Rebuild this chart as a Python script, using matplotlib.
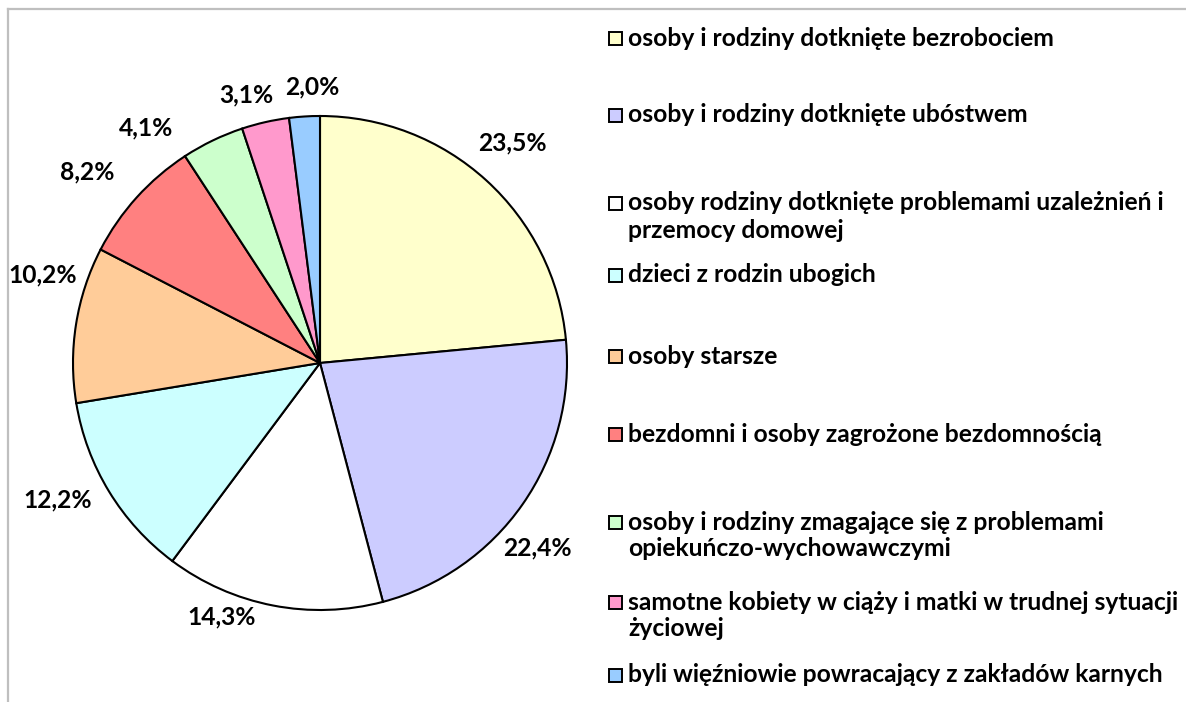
import numpy as np
import matplotlib
matplotlib.use("Agg")
import matplotlib.pyplot as plt
from matplotlib import font_manager
from matplotlib.lines import Line2D
from matplotlib.patches import Rectangle


categories = [
    "osoby i rodziny dotknięte bezrobociem",
    "osoby i rodziny dotknięte ubóstwem",
    "osoby rodziny dotknięte problemami uzależnień i\nprzemocy domowej",
    "dzieci z rodzin ubogich",
    "osoby starsze",
    "bezdomni i osoby zagrożone bezdomnością",
    "osoby i rodziny zmagające się z problemami\nopiekuńczo-wychowawczymi",
    "samotne kobiety w ciąży i matki w trudnej sytuacji\nżyciowej",
    "byli więźniowie powracający z zakładów karnych",
]
shares = [23.5, 22.4, 14.3, 12.2, 10.2, 8.2, 4.1, 3.1, 2.0]
colors = ["#FFFFCC", "#CCCCFF", "#FFFFFF", "#CCFFFF", "#FFCC99",
          "#FF8080", "#CCFFCC", "#FF99CC", "#99CCFF"]

W, H = 1186, 702


def bold_font_file():
    fonts = font_manager.fontManager.ttflist
    for fam in ["Lato", "Open Sans", "Noto Sans", "Roboto", "Liberation Sans", "DejaVu Sans"]:
        cands = [f for f in fonts if f.name == fam and f.style == "normal"
                 and isinstance(f.weight, int) and 650 <= f.weight <= 750]
        if cands:
            return cands[0].fname
    return None


path = bold_font_file()
if path:
    FP = font_manager.FontProperties(fname=path)
else:
    FP = font_manager.FontProperties(family="DejaVu Sans", weight="bold")

fig = plt.figure(figsize=(W / 100, H / 100), dpi=100)
fig.patch.set_facecolor("white")

# fit font size so the last legend line is as wide as in the original (~537 px)
renderer = fig.canvas.get_renderer()
probe = fig.text(0, 0, categories[-1], fontproperties=FP, fontsize=16)
FS = 16 * 537 / probe.get_window_extent(renderer).width
probe.remove()
FP.set_size(FS)


def fx(x):
    return x / W


def fy(y):
    return 1 - y / H


# chart frame (only top and left edges are visible)
fig.add_artist(Line2D([fx(8), fx(W + 5)], [fy(9), fy(9)], color="#BFBFBF", lw=1.6))
fig.add_artist(Line2D([fx(8), fx(8)], [fy(9), fy(H + 5)], color="#BFBFBF", lw=1.6))

# pie
cx, cy, r = 320, 363, 247
ax = fig.add_axes([fx(cx - r), fy(cy + r), 2 * r / W, 2 * r / H])

wedges, _ = ax.pie(
    shares,
    colors=colors,
    startangle=90,
    counterclock=False,
    radius=1,
    wedgeprops=dict(edgecolor="black", linewidth=1.5),
)
ax.set_xlim(-1, 1)
ax.set_ylim(-1, 1)
ax.axis("off")

# percentage labels outside the slices (Excel-like placement tweaks, in pixels)
label_dist = 1.15
nudge = [(1, 10), (-15, -22), (-44, 25), (-20, 11), (3, 44),
         (-22, 1), (-51, -21), (-11, -9), (10, -7)]
for w, v, (nx, ny) in zip(wedges, shares, nudge):
    ang = np.deg2rad((w.theta1 + w.theta2) / 2)
    ax.annotate(
        f"{v:.1f}%".replace(".", ","),
        xy=(label_dist * np.cos(ang), label_dist * np.sin(ang)),
        xytext=(nx, ny),
        textcoords="offset pixels",
        ha="center", va="center",
        fontproperties=FP,
        annotation_clip=False,
    )

# legend, laid out by hand like the original
legend_y = [38, 115, 203, 275, 356, 435, 522, 602, 675]
line_gap = 27
box_x, box_s, text_x = 609, 13, 628
for lab, col, y in zip(categories, colors, legend_y):
    fig.add_artist(Rectangle((fx(box_x), fy(y + box_s / 2)), box_s / W, box_s / H,
                             facecolor=col, edgecolor="black", lw=1.4))
    for i, line in enumerate(lab.split("\n")):
        fig.text(fx(text_x), fy(y + i * line_gap), line, ha="left", va="center",
                 fontproperties=FP)

fig.savefig("out.png", dpi=100)
